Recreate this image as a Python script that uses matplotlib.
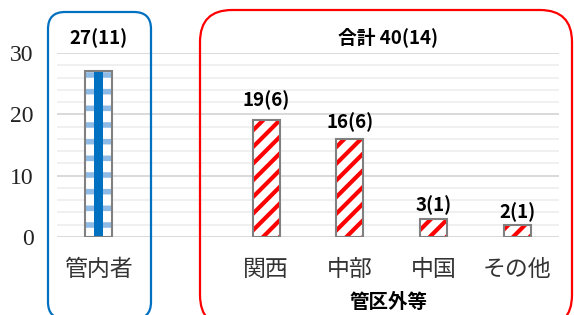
import matplotlib
matplotlib.use('Agg')
import matplotlib.pyplot as plt
from matplotlib.patches import FancyBboxPatch
from matplotlib.transforms import IdentityTransform

# data
categories = ['管内者', '', '関西', '中部', '中国', 'その他']
values = [27, 0, 19, 16, 3, 2]
labels = ['27(11)', '', '19(6)', '16(6)', '3(1)', '2(1)']
label_gap_px = [33, 0, 20, 17, 13, 13]
yticks = [0, 10, 20, 30]
total_label = '合計 40(14)'
group_label = '管区外等'

CJK = ['Noto Sans CJK JP', 'DejaVu Sans']
SERIF = ['Liberation Serif', 'DejaVu Serif']
BLUE = '#0070C0'
RED = '#FF0000'

fig = plt.figure(figsize=(5.74, 3.15), dpi=100)
ax = fig.add_axes([57 / 574, 78 / 315, 502 / 574, 184 / 315])

x = list(range(len(categories)))
w = 0.32

# grid
ax.set_ylim(0, 30)
ax.set_xlim(-0.5, len(categories) - 0.5)
ax.set_yticks(yticks)
ax.set_yticklabels([str(t) for t in yticks], family=SERIF, fontsize=17,
                   color='#222222')
ax.set_yticks(range(0, 31, 2), minor=True)
ax.grid(axis='y', which='minor', color='#F0F0F0', lw=1.4, zorder=0)
ax.grid(axis='y', which='major', color='#D9D9D9', lw=1.4, zorder=0)
ax.tick_params(axis='y', which='both', length=0, pad=17)
ax.set_xticks(x)
ax.set_xticklabels(categories, family=CJK, fontsize=16.5, color='#333333')
ax.tick_params(axis='x', length=0, pad=15)
for s in ax.spines.values():
    s.set_visible(False)

# only categories that have a bar
bx = [xi for xi, v in zip(x, values) if v > 0]
bv = [v for v in values if v > 0]

# 管内者 bar (checked blue)
plt.rcParams['hatch.linewidth'] = 4.0
ax.bar(bx[0], bv[0], width=w, color='white', edgecolor='#8DBBE6',
       hatch='-', lw=0, zorder=2)
ax.bar(bx[0], bv[0], width=w * 0.33, color=BLUE, lw=0, zorder=3)

# 管区外 bars (red stripes)
plt.rcParams['hatch.linewidth'] = 3.0
ax.bar(bx[1:], bv[1:], width=w, color='white', edgecolor=RED,
       hatch='//', lw=0, zorder=2)

# outlines
ax.bar(bx, bv, width=w, fill=False, edgecolor='#808080', lw=1.5, zorder=4)

# value labels
for xi, v, lab, g in zip(x, values, labels, label_gap_px):
    if not lab:
        continue
    ax.annotate(lab, (xi, v), xytext=(0, g * 0.72), textcoords='offset points',
                ha='center', va='center', family=CJK, fontsize=13.5,
                fontweight='bold', clip_on=False)

fig.text(388 / 574, 1 - 37 / 315, total_label, ha='center', va='center',
         family=CJK, fontsize=13.5, fontweight='bold')
fig.text(389 / 574, 1 - 302 / 315, group_label, ha='center', va='center',
         family=CJK, fontsize=14, fontweight='bold')

# rounded group boxes (pixel coords)
blue_box = FancyBboxPatch((48, -4), 103, 307,
                          boxstyle='round,pad=0,rounding_size=17',
                          transform=IdentityTransform(), fill=False,
                          edgecolor=BLUE, lw=1.6)
red_box = FancyBboxPatch((200, -12), 372, 317,
                         boxstyle='round,pad=0,rounding_size=32',
                         transform=IdentityTransform(), fill=False,
                         edgecolor=RED, lw=1.6)
fig.add_artist(blue_box)
fig.add_artist(red_box)

fig.savefig('out.png', dpi=100)
